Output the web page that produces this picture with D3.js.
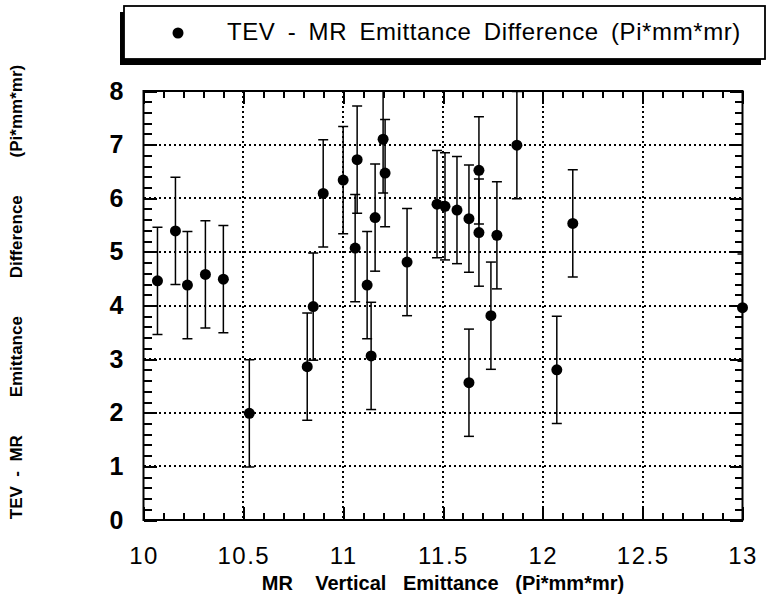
<!DOCTYPE html>
<html>
<head>
<meta charset="utf-8">
<script src="https://cdn.jsdelivr.net/npm/d3@7"></script>
<style>
  body { margin: 0; background: #fff; }
  svg { display: block; }
</style>
</head>
<body>
<div id="chart"></div>
<script>

// values
const emittance = [10.07, 10.16, 10.22, 10.31, 10.40, 10.53, 10.82, 10.85, 10.90, 11.00,
                   11.06, 11.07, 11.12, 11.14, 11.16, 11.20, 11.21, 11.32, 11.47, 11.51,
                   11.57, 11.63, 11.63, 11.68, 11.68, 11.74, 11.77, 11.87, 12.07, 12.15, 13.00];
const difference = [4.46, 5.39, 4.38, 4.58, 4.49, 1.99, 2.86, 3.98, 6.09, 6.34,
                    5.07, 6.72, 4.38, 3.06, 5.64, 7.10, 6.47, 4.81, 5.89, 5.85,
                    5.78, 5.62, 2.56, 6.52, 5.36, 3.81, 5.31, 6.99, 2.80, 5.53, 3.96];
const errors = [1, 1, 1, 1, 1, 1, 1, 1, 1, 1,
                1, 1, 1, 1, 1, 1, 1, 1, 1, 1,
                1, 1, 1, 1, 1, 1, 1, 1, 1, 1, 1];

const xTicks = [10, 10.5, 11, 11.5, 12, 12.5, 13];
const yTicks = [0, 1, 2, 3, 4, 5, 6, 7, 8];
const xMinor = d3.range(100, 131).map(d => d / 10);
const yMinor = d3.range(0, 41).map(d => d / 5);

const legendLabel = "TEV - MR Emittance Difference (Pi*mm*mr)";
const xTitle = "MR    Vertical   Emittance   (Pi*mm*mr)";
const yTitle = "TEV  -  MR        Emittance        Difference        (Pi*mm*mr)";

const data = emittance.map((x, i) => ({x: x, y: difference[i], e: errors[i]}));

const W = 771, H = 597;
const margin = {top: 91, right: 28.5, bottom: 77, left: 143.5};
const width = W - margin.left - margin.right;
const height = H - margin.top - margin.bottom;

const xScale = d3.scaleLinear().domain([10, 13]).range([0, width]);
const yScale = d3.scaleLinear().domain([0, 8]).range([height, 0]);

const svg = d3.select("#chart")
  .append("svg")
  .attr("width", W)
  .attr("height", H);

// legend box with its drop shadow
const legend = svg.append("g");
legend.append("rect")
  .attr("x", 120).attr("y", 12)
  .attr("width", 641).attr("height", 53)
  .attr("fill", "#000");
legend.append("rect")
  .attr("x", 124).attr("y", 6)
  .attr("width", 641).attr("height", 53)
  .attr("fill", "#fff")
  .attr("stroke", "#000")
  .attr("stroke-width", 1.8);
legend.append("circle")
  .attr("cx", 178).attr("cy", 33).attr("r", 5.5)
  .attr("fill", "#000");
legend.append("text")
  .attr("x", 227).attr("y", 40)
  .attr("font-family", "Liberation Sans, Arial, sans-serif")
  .attr("font-size", 24)
  .attr("letter-spacing", 0.6)
  .attr("word-spacing", 5)
  .text(legendLabel);

const g = svg.append("g")
  .attr("transform", "translate(" + margin.left + "," + margin.top + ")");

g.append("clipPath")
  .attr("id", "plot-clip")
  .append("rect")
  .attr("width", width).attr("height", height);

// dotted grid
g.selectAll(".hgrid")
  .data(yTicks.slice(1, -1))
  .enter().append("line")
  .attr("class", "hgrid")
  .attr("x1", 0).attr("x2", width)
  .attr("y1", d => yScale(d)).attr("y2", d => yScale(d))
  .attr("stroke", "#000").attr("stroke-width", 2)
  .attr("stroke-dasharray", "2,3")
  .attr("shape-rendering", "crispEdges");
g.selectAll(".vgrid")
  .data(xTicks.slice(1, -1))
  .enter().append("line")
  .attr("class", "vgrid")
  .attr("y1", 0).attr("y2", height)
  .attr("x1", d => xScale(d)).attr("x2", d => xScale(d))
  .attr("stroke", "#000").attr("stroke-width", 2)
  .attr("stroke-dasharray", "2,3")
  .attr("shape-rendering", "crispEdges");

// inward ticks on all four sides
function tickAxis(axis, tr, size, values) {
  const a = g.append("g")
    .attr("transform", tr)
    .call(axis.tickValues(values).tickSizeInner(-size).tickSizeOuter(0).tickFormat(() => ""));
  a.select(".domain").remove();
  a.selectAll(".tick line")
    .attr("stroke", "#000")
    .attr("stroke-width", 2)
    .attr("shape-rendering", "crispEdges");
  return a;
}
tickAxis(d3.axisBottom(xScale), "translate(0," + height + ")", 7, xMinor);
tickAxis(d3.axisTop(xScale), "translate(0,0)", 7, xMinor);
tickAxis(d3.axisLeft(yScale), "translate(0,0)", 8, yMinor);
tickAxis(d3.axisRight(yScale), "translate(" + width + ",0)", 8, yMinor);
tickAxis(d3.axisBottom(xScale), "translate(0," + height + ")", 13, xTicks);
tickAxis(d3.axisTop(xScale), "translate(0,0)", 13, xTicks);
tickAxis(d3.axisLeft(yScale), "translate(0,0)", 13, yTicks);
tickAxis(d3.axisRight(yScale), "translate(" + width + ",0)", 13, yTicks);

// frame
g.append("rect")
  .attr("width", width).attr("height", height)
  .attr("fill", "none")
  .attr("stroke", "#000").attr("stroke-width", 2);

// tick labels
const xLab = g.append("g")
  .attr("transform", "translate(0," + height + ")")
  .call(d3.axisBottom(xScale).tickValues(xTicks).tickSize(0).tickPadding(27)
    .tickFormat(d3.format("~g")));
xLab.select(".domain").remove();
xLab.selectAll("text")
  .attr("fill", "#000")
  .attr("font-family", "Liberation Sans, Arial, sans-serif")
  .attr("font-size", 24)
  .attr("letter-spacing", 1.5);

const yLab = g.append("g")
  .call(d3.axisLeft(yScale).tickValues(yTicks).tickSize(0).tickPadding(20)
    .tickFormat(d3.format("d")));
yLab.select(".domain").remove();
yLab.selectAll("text")
  .attr("fill", "#000")
  .attr("font-family", "Liberation Sans, Arial, sans-serif")
  .attr("font-weight", "bold")
  .attr("font-size", 25);

// error bars
const bars = g.append("g").attr("clip-path", "url(#plot-clip)");
bars.selectAll(".stem")
  .data(data)
  .enter().append("line")
  .attr("class", "stem")
  .attr("x1", d => xScale(d.x)).attr("x2", d => xScale(d.x))
  .attr("y1", d => yScale(d.y - d.e)).attr("y2", d => yScale(d.y + d.e))
  .attr("stroke", "#000").attr("stroke-width", 1.5);
bars.selectAll(".cap")
  .data(data.flatMap(d => [{x: d.x, y: d.y - d.e}, {x: d.x, y: d.y + d.e}]))
  .enter().append("line")
  .attr("class", "cap")
  .attr("x1", d => xScale(d.x) - 5).attr("x2", d => xScale(d.x) + 5)
  .attr("y1", d => yScale(d.y)).attr("y2", d => yScale(d.y))
  .attr("stroke", "#000").attr("stroke-width", 1.5);

// points
g.selectAll(".dot")
  .data(data)
  .enter().append("circle")
  .attr("class", "dot")
  .attr("r", 5.5)
  .attr("cx", d => xScale(d.x))
  .attr("cy", d => yScale(d.y))
  .attr("fill", "#000");

// axis titles
svg.append("text")
  .attr("x", margin.left + width / 2).attr("y", 590)
  .attr("text-anchor", "middle")
  .attr("font-family", "Liberation Sans, Arial, sans-serif")
  .attr("font-weight", "bold")
  .attr("font-size", 20)
  .style("white-space", "pre")
  .text(xTitle);

svg.append("text")
  .attr("transform", "translate(22," + 292 + ") rotate(-90)")
  .attr("text-anchor", "middle")
  .attr("font-family", "Liberation Sans, Arial, sans-serif")
  .attr("font-weight", "bold")
  .attr("font-size", 17)
  .style("white-space", "pre")
  .text(yTitle);

</script>
</body>
</html>
